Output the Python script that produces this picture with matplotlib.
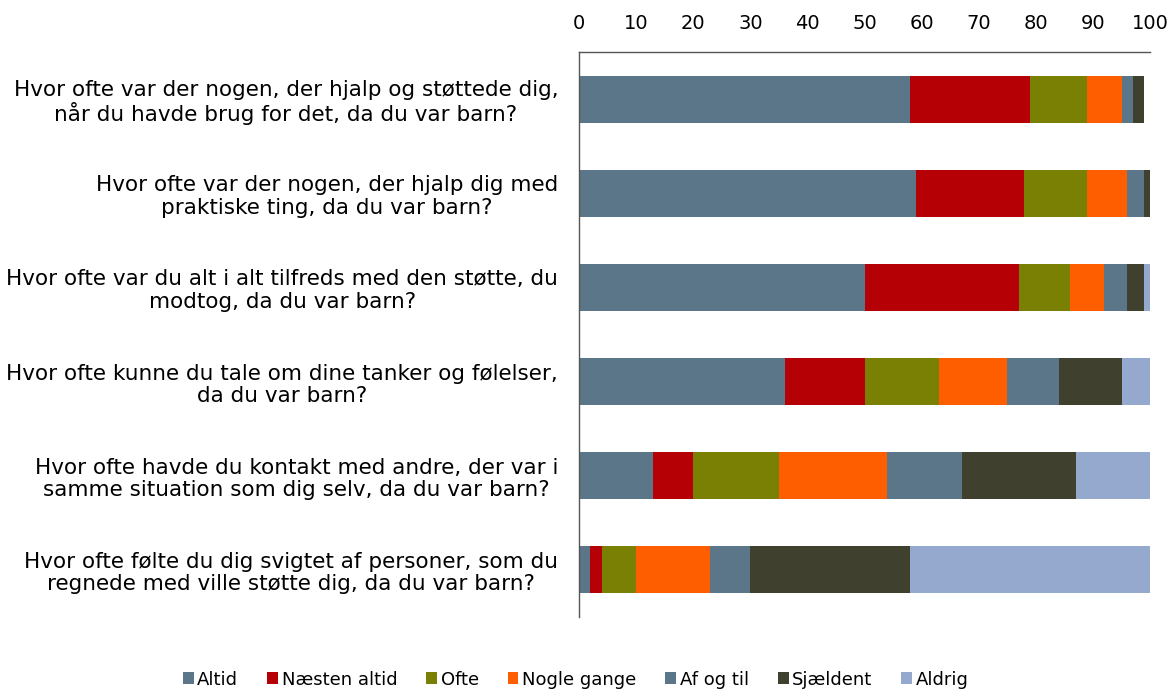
import matplotlib.pyplot as plt
import numpy as np

# Spoergsmaal (oeverst foerst)
questions = [
    "Hvor ofte var der nogen, der hjalp og støttede dig,\nnår du havde brug for det, da du var barn?",
    "Hvor ofte var der nogen, der hjalp dig med\npraktiske ting, da du var barn?",
    "Hvor ofte var du alt i alt tilfreds med den støtte, du\nmodtog, da du var barn?",
    "Hvor ofte kunne du tale om dine tanker og følelser,\nda du var barn?",
    "Hvor ofte havde du kontakt med andre, der var i\nsamme situation som dig selv, da du var barn?",
    "Hvor ofte følte du dig svigtet af personer, som du\nregnede med ville støtte dig, da du var barn?",
]

categories = ["Altid", "Næsten altid", "Ofte", "Nogle gange", "Af og til", "Sjældent", "Aldrig"]
colors = ["#5b7688", "#b50005", "#7a8003", "#ff5e00", "#5b7688", "#3f402d", "#95a9cf"]

altid = [58, 59, 50, 36, 13, 2]
naesten_altid = [21, 19, 27, 14, 7, 2]
ofte = [10, 11, 9, 13, 15, 6]
nogle_gange = [6, 7, 6, 12, 19, 13]
af_og_til = [2, 3, 4, 9, 13, 7]
sjaeldent = [2, 0.9, 3, 11, 20, 28]
aldrig = [0, 0.5, 1, 5.5, 13, 42]

series = [altid, naesten_altid, ofte, nogle_gange, af_og_til, sjaeldent, aldrig]

fig = plt.figure(figsize=(11.75, 6.93), dpi=100)
ax = fig.add_axes([0.4928, 0.1097, 0.486, 0.8153])

y = np.arange(len(questions))
left = np.zeros(len(questions))
for cat, vals, col in zip(categories, series, colors):
    vals = np.array(vals, dtype=float)
    ax.barh(y, vals, left=left, height=0.5, color=col, label=cat)
    left += vals

ax.set_xlim(0, 100)
ax.set_ylim(len(questions) - 0.5, -0.5)
ax.set_xticks(np.arange(0, 101, 10))
ax.xaxis.tick_top()
ax.tick_params(axis="x", length=0, labelsize=14, pad=14)
ax.tick_params(axis="y", length=0, labelsize=15.5, pad=15)
ax.set_yticks(y)
ax.set_yticklabels(questions, multialignment="center", linespacing=1.15)

for s in ["bottom", "right"]:
    ax.spines[s].set_visible(False)
for s in ["top", "left"]:
    ax.spines[s].set_color("#555555")
    ax.spines[s].set_linewidth(1)

fig.legend(loc="lower center", bbox_to_anchor=(0.49, -0.017), ncol=7, frameon=False,
           fontsize=13, handlelength=0.6, handleheight=0.6, handletextpad=0.2,
           columnspacing=1.6)

fig.savefig("out.png", dpi=100)
